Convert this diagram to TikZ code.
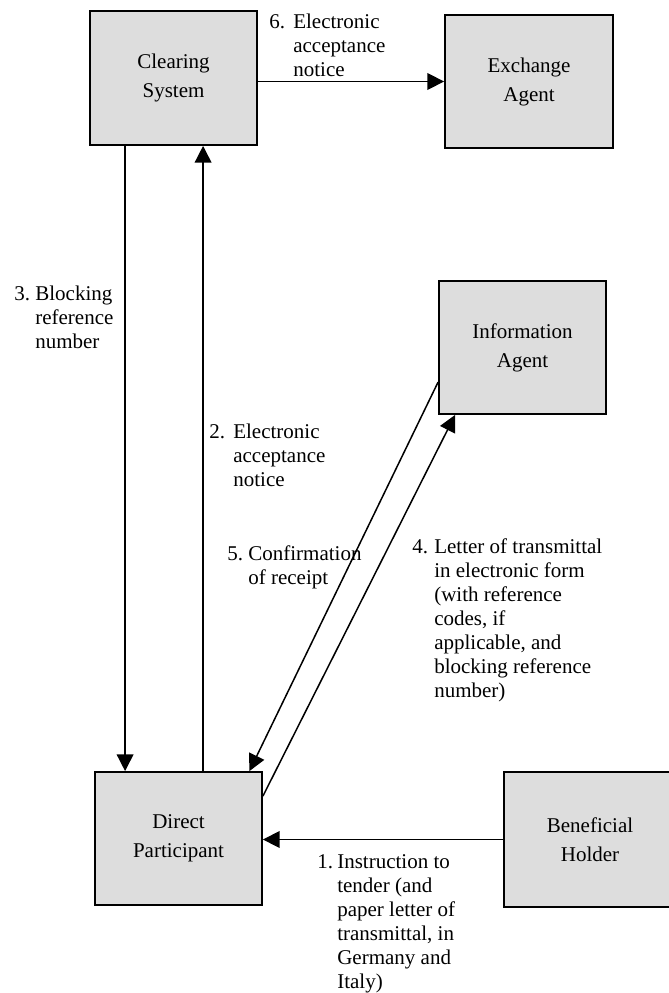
\documentclass[tikz,border=0pt]{standalone}
\usepackage{fontspec}
\setmainfont{Liberation Serif}
\usetikzlibrary{arrows.meta}
\definecolor{boxgray}{HTML}{DDDDDD}
\begin{document}
\begin{tikzpicture}[x=0.6pt,y=-0.6pt,
  box/.style={draw=black,line width=1.1pt,fill=boxgray,align=center,inner sep=0pt,
    font=\fontsize{12.6}{17.4}\selectfont},
  lbl/.style={anchor=base west,inner sep=0pt,font=\fontsize{12.6}{14.4}\selectfont},
  arr/.style={line width=0.9pt,-{Triangle[length=10pt,width=10pt]}}]
\clip (0,0) rectangle (669,993);
% boxes
\node[box,minimum width=100.2pt,minimum height=80.4pt] (cs) at (173.5,78) {Clearing\\System};
\node[box,minimum width=100.8pt,minimum height=79.8pt] (ea) at (529,81.5) {Exchange\\Agent};
\node[box,minimum width=100.2pt,minimum height=79.8pt] (ia) at (522.5,347.5) {Information\\Agent};
\node[box,minimum width=100.2pt,minimum height=79.8pt] (dp) at (178.5,838.5) {Direct\\Participant};
\node[box,minimum width=103.2pt,minimum height=81pt] (bh) at (590,839.5) {Beneficial\\Holder};
% connectors
\draw[arr] (cs.east |- ea.west) -- (ea.west);
\path ([xshift=21.6pt]cs.south west) coordinate (a3);
\draw[arr] (a3) -- (a3 |- dp.north);
\path ([xshift=68.4pt]cs.south west) coordinate (a2);
\draw[arr] (a2 |- dp.north) -- (a2);
\draw[arr] ([yshift=-61.2pt]ia.north west) -- ([xshift=-8.1pt]dp.north east);
\draw[arr] ([yshift=-15pt]dp.north east) -- ([xshift=10.2pt]ia.south west);
\draw[arr] (bh.west) -- (bh.west -| dp.east);
% labels
\node[lbl] (l6) at (269,29) {\begin{tabular}[t]{@{}l@{}l@{}}\makebox[14.4pt][l]{6.}&Electronic\\&acceptance\\&notice\end{tabular}};
\node[lbl] (l3) at (14,300) {\begin{tabular}[t]{@{}l@{}l@{}}\makebox[12.6pt][l]{3.}&Blocking\\&reference\\&number\end{tabular}};
\node[lbl] (l2) at (209,438) {\begin{tabular}[t]{@{}l@{}l@{}}\makebox[14.4pt][l]{2.}&Electronic\\&acceptance\\&notice\end{tabular}};
\node[lbl] (l5) at (227,560) {\begin{tabular}[t]{@{}l@{}l@{}}\makebox[12.6pt][l]{5.}&Confirmation\\&of receipt\end{tabular}};
\node[lbl] (l4) at (412,553) {\begin{tabular}[t]{@{}l@{}l@{}}\makebox[13.2pt][l]{4.}&Letter of transmittal\\&in electronic form\\&(with reference\\&codes, if\\&applicable, and\\&blocking reference\\&number)\end{tabular}};
\node[lbl] (l1) at (317,868) {\begin{tabular}[t]{@{}l@{}l@{}}\makebox[12pt][l]{1.}&Instruction to\\&tender (and\\&paper letter of\\&transmittal, in\\&Germany and\\&Italy)\end{tabular}};
\end{tikzpicture}
\end{document}
